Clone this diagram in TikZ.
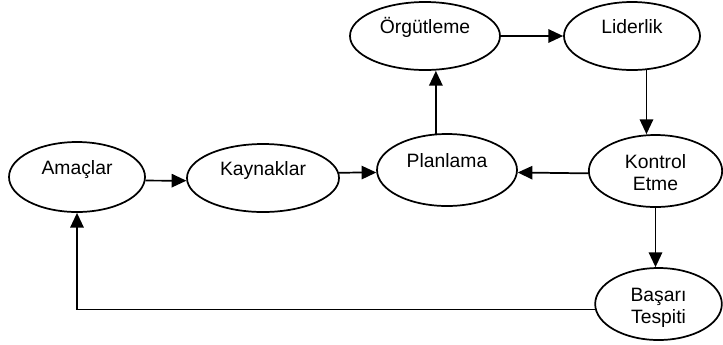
\documentclass[tikz,border=0pt]{standalone}
\usepackage{fontspec}
\setmainfont{Liberation Sans}
\usetikzlibrary{shapes.geometric,arrows.meta}
\tikzset{
  stage/.style   = {ellipse, draw, line width=1.3pt, inner sep=0pt, align=center,
                    font=\fontsize{14.5}{17}\selectfont,
                    text height=11pt, text depth=15pt},
  twoline/.style = {text height=30pt, text depth=0.5pt},
  flow/.style    = {-{Triangle[length=11pt,width=10pt]}, line width=1.3pt},
}
\begin{document}
\begin{tikzpicture}[x=0.75pt, y=-0.75pt]
  \useasboundingbox (0,0) rectangle (723,344);

  \node[stage, minimum width=102pt,   minimum height=52.5pt] (amaclar)   at (77,177)    {Amaçlar};
  \node[stage, minimum width=114pt,   minimum height=51pt]   (kaynaklar) at (263,178)   {Kaynaklar};
  \node[stage, minimum width=105pt,   minimum height=54pt]   (planlama)  at (447,170)   {Planlama};
  \node[stage, minimum width=112.5pt, minimum height=51pt]   (orgutleme) at (425,36)    {Örgütleme};
  \node[stage, minimum width=102pt,   minimum height=51pt]   (liderlik)  at (632,36)    {Liderlik};
  \node[stage, twoline, minimum width=100pt, minimum height=54pt] (kontrol) at (655.5,171) {Kontrol\\Etme};
  \node[stage, twoline, minimum width=95pt,  minimum height=54pt] (basari)  at (658.5,304) {Başarı\\Tespiti};

  \draw[flow] (amaclar.-3) -- (kaynaklar.182);
  \draw[flow] (kaynaklar.4) -- (planlama.182);
  \draw[flow] (planlama.107) -- (planlama.107 |- orgutleme.south);
  \draw[flow] (orgutleme.east) -- (liderlik.west);
  \draw[flow] (liderlik.-67) -- (liderlik.-67 |- kontrol.north);
  \draw[flow] (kontrol.182) -- (planlama.-2);
  \draw[flow] (kontrol.south) -- (kontrol.south |- basari.north);
  % back to the goals
  \draw[flow] (basari.185) -| (amaclar.south);
\end{tikzpicture}
\end{document}
